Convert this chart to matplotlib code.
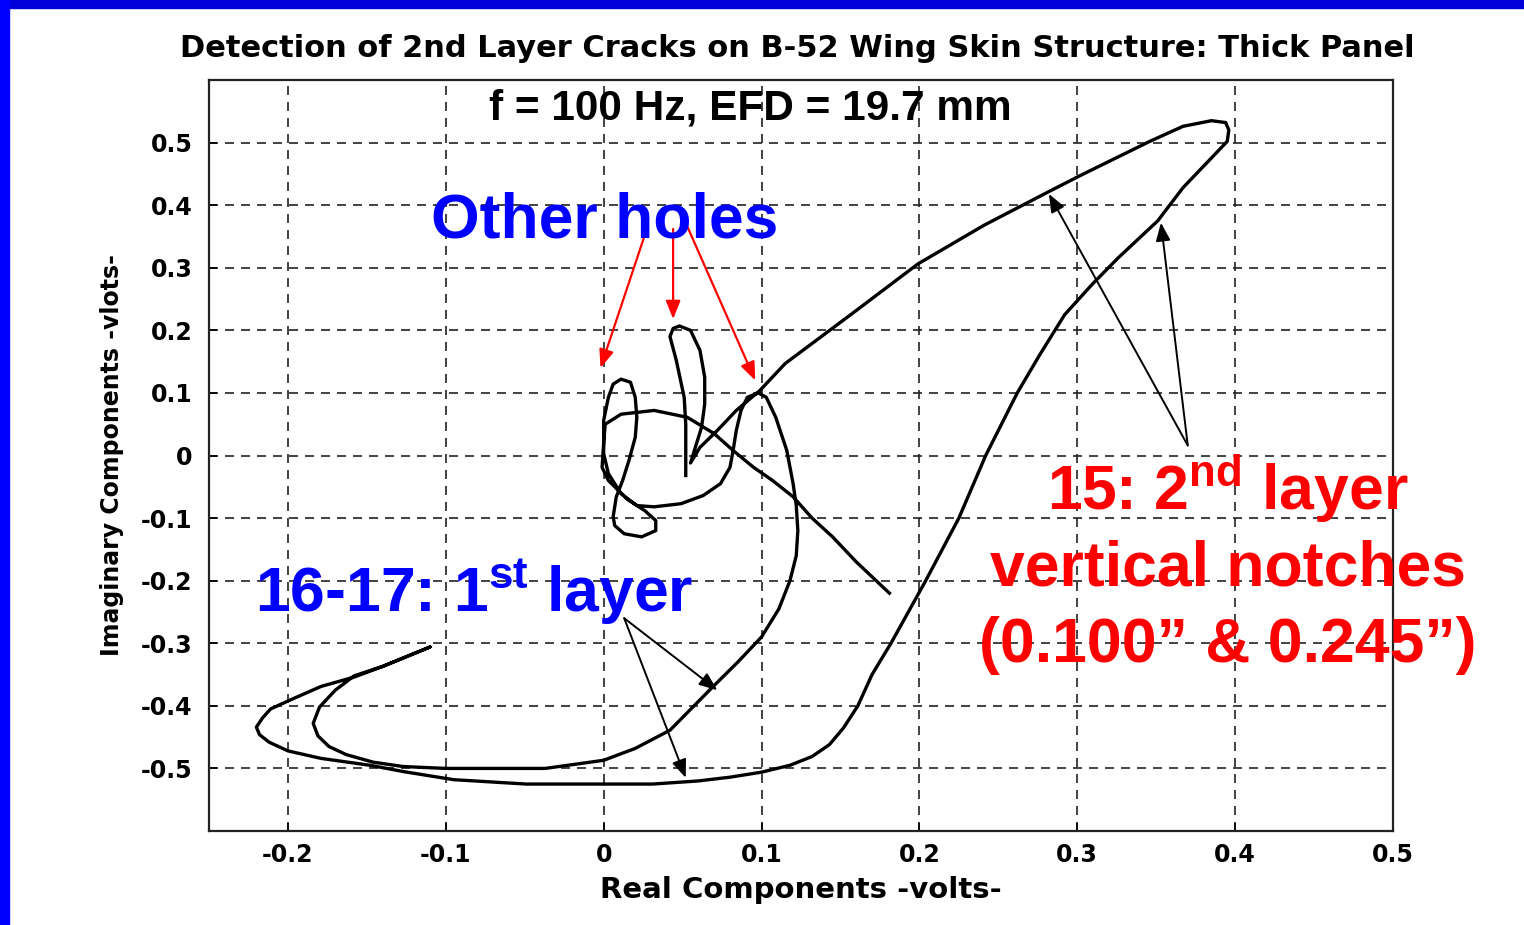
import matplotlib
matplotlib.use('Agg')
import matplotlib.pyplot as plt
from matplotlib.patches import Rectangle

plt.rcParams['axes.unicode_minus'] = False
plt.rcParams['mathtext.fontset'] = 'custom'
plt.rcParams['mathtext.rm'] = 'Liberation Sans:bold'
plt.rcParams['mathtext.it'] = 'Liberation Sans:bold'
plt.rcParams['mathtext.bf'] = 'Liberation Sans:bold'

# impedance plane trace, in four connected pieces
# middle "other hole" loop
hole_x = [0.052, 0.052, 0.052, 0.051, 0.046, 0.042, 0.044, 0.048, 0.055, 0.061, 0.064,
          0.064, 0.062, 0.055, 0.061, 0.072, 0.084, 0.099]
hole_y = [-0.032, 0.010, 0.050, 0.093, 0.152, 0.190, 0.203, 0.207, 0.200, 0.168, 0.125,
          0.082, 0.045, -0.012, 0.013, 0.040, 0.072, 0.104]

# 15: 2nd layer notches (big loop up to the right)
layer2_x = [0.099, 0.115, 0.157, 0.199, 0.241, 0.283, 0.304, 0.346, 0.367, 0.385, 0.394,
            0.396, 0.395, 0.389, 0.367, 0.351, 0.326, 0.310, 0.292, 0.276, 0.262, 0.242,
            0.225, 0.204, 0.182, 0.170, 0.161, 0.152, 0.143, 0.132, 0.118, 0.100, 0.080,
            0.060, 0.031]
layer2_y = [0.104, 0.147, 0.226, 0.306, 0.368, 0.423, 0.450, 0.502, 0.526, 0.535, 0.532,
            0.520, 0.502, 0.486, 0.428, 0.375, 0.316, 0.275, 0.225, 0.160, 0.100, 0.000,
            -0.100, -0.200, -0.300, -0.350, -0.400, -0.435, -0.462, -0.481, -0.495, -0.506,
            -0.514, -0.520, -0.525]

# 16-17: 1st layer (two lobes to the lower left)
layer1_x = [0.031, -0.049, -0.095, -0.127, -0.148, -0.179, -0.200, -0.212, -0.218, -0.220,
            -0.216, -0.211, -0.198, -0.179, -0.158, -0.140, -0.110, -0.140, -0.158, -0.170,
            -0.180, -0.184, -0.181, -0.174, -0.163, -0.146, -0.127, -0.100, -0.037, 0.000,
            0.020, 0.042, 0.069, 0.085, 0.100, 0.111, 0.118, 0.122, 0.123, 0.122, 0.120,
            0.116, 0.109, 0.103, 0.098]
layer1_y = [-0.525, -0.525, -0.518, -0.505, -0.495, -0.484, -0.472, -0.458, -0.446, -0.434,
            -0.419, -0.405, -0.390, -0.369, -0.354, -0.337, -0.306, -0.337, -0.352, -0.375,
            -0.402, -0.428, -0.448, -0.465, -0.478, -0.490, -0.497, -0.500, -0.500, -0.487,
            -0.468, -0.439, -0.370, -0.330, -0.290, -0.245, -0.200, -0.160, -0.120, -0.080,
            -0.045, 0.008, 0.061, 0.093, 0.100]

# small loops round the origin and the tail
center_x = [0.098, 0.091, 0.087, 0.084, 0.082, 0.080, 0.074, 0.063, 0.049, 0.032, 0.021,
            0.011, 0.003, 0.000, 0.000, 0.003, 0.006, 0.011, 0.017, 0.020, 0.021, 0.020,
            0.016, 0.012, 0.008, 0.006, 0.007, 0.013, 0.024, 0.033, 0.033, 0.026, 0.015,
            0.003, -0.001, 0.000, 0.001, 0.011, 0.032, 0.053, 0.070, 0.082, 0.095, 0.107,
            0.120, 0.132, 0.145, 0.160, 0.181]
center_y = [0.100, 0.093, 0.072, 0.040, 0.008, -0.019, -0.045, -0.064, -0.077, -0.082, -0.080,
            -0.061, -0.029, 0.003, 0.056, 0.093, 0.114, 0.122, 0.117, 0.093, 0.061, 0.029,
            -0.008, -0.040, -0.066, -0.098, -0.112, -0.125, -0.130, -0.120, -0.104, -0.088, -0.070,
            -0.040, -0.019, 0.020, 0.050, 0.066, 0.072, 0.061, 0.035, 0.008, -0.019, -0.040,
            -0.066, -0.100, -0.130, -0.170, -0.220]

x_ticks = [-0.2, -0.1, 0, 0.1, 0.2, 0.3, 0.4, 0.5]
x_labels = ['-0.2', '-0.1', '0', '0.1', '0.2', '0.3', '0.4', '0.5']
y_ticks = [-0.5, -0.4, -0.3, -0.2, -0.1, 0, 0.1, 0.2, 0.3, 0.4, 0.5]
y_labels = ['-0.5', '-0.4', '-0.3', '-0.2', '-0.1', '0', '0.1', '0.2', '0.3', '0.4', '0.5']

W, H = 1524, 925
fig = plt.figure(figsize=(W / 100, H / 100), dpi=100)
fig.patch.set_facecolor('white')
# blue slide frame
fig.patches.append(Rectangle((0, 1 - 8 / H), 1, 8 / H, transform=fig.transFigure,
                             color='#0000d8', zorder=0))
fig.patches.append(Rectangle((0, 0), 9 / W, 1, transform=fig.transFigure,
                             color='#0000ff', zorder=0))

ax = fig.add_axes([209 / W, (H - 831) / H, (1393 - 209) / W, (831 - 80) / H])

px = hole_x + layer2_x[1:] + layer1_x[1:] + center_x[1:]
py = hole_y + layer2_y[1:] + layer1_y[1:] + center_y[1:]
ax.plot(px, py, color='black', lw=2.4, solid_joinstyle='round', zorder=3)

ax.set_xlim(-0.25, 0.5)
ax.set_ylim(-0.6, 0.6)
ax.set_xticks(x_ticks)
ax.set_xticklabels(x_labels)
ax.set_yticks(y_ticks)
ax.set_yticklabels(y_labels)
ax.grid(True, color='#222222', linestyle=(0, (5.4, 4.2)), lw=1.2)
ax.tick_params(direction='in', length=6, width=1.2, labelsize=17)
ax.tick_params(axis='x', pad=9)
ax.tick_params(axis='y', pad=12)
for lab in ax.get_xticklabels() + ax.get_yticklabels():
    lab.set_fontweight('bold')
for sp in ax.spines.values():
    sp.set_linewidth(1.6)
    sp.set_color('#222222')

ax.set_xlabel('Real Components -volts-', fontsize=21, fontweight='bold', labelpad=6)
ax.set_ylabel('Imaginary Components -vlots-', fontsize=17, fontweight='bold', labelpad=12)

fig.text(797 / W, 1 - 57 / H,
         'Detection of 2nd Layer Cracks on B-52 Wing Skin Structure: Thick Panel',
         ha='center', va='baseline', fontsize=22, fontweight='bold')

arial = 'Liberation Sans'
fig.text(750 / W, 1 - 120 / H, 'f = 100 Hz, EFD = 19.7 mm', ha='center', va='baseline',
         fontsize=30.5, fontweight='bold', family=arial)
fig.text(605 / W, 1 - 237 / H, 'Other holes', ha='center', va='baseline',
         fontsize=45, fontweight='bold', family=arial, color='#0000ff', zorder=5)
fig.text(255 / W, 1 - 612 / H, '16-17: 1$^{\\mathrm{st}}$ layer', ha='left', va='baseline',
         fontsize=45, fontweight='bold', family=arial, color='#0000ff', zorder=5)
fig.text(1228 / W, 1 - 510 / H, '15: 2$^{\\mathrm{nd}}$ layer', ha='center', va='baseline',
         fontsize=45, fontweight='bold', family=arial, color='#ff0000', zorder=5)
fig.text(1228 / W, 1 - 585 / H, 'vertical notches', ha='center', va='baseline',
         fontsize=45, fontweight='bold', family=arial, color='#ff0000', zorder=5)
fig.text(1228 / W, 1 - 662 / H, '(0.100\u201d & 0.245\u201d)', ha='center', va='baseline',
         fontsize=45, fontweight='bold', family=arial, color='#ff0000', zorder=5)

red_arrow = dict(arrowstyle='-|>,head_length=0.55,head_width=0.22', color='#ff0000',
                 lw=1.6, mutation_scale=20, shrinkA=0, shrinkB=0)
black_arrow = dict(arrowstyle='-|>,head_length=0.55,head_width=0.22', color='black',
                   lw=1.4, mutation_scale=20, shrinkA=0, shrinkB=0)

# Other holes
ax.annotate('', xy=(-0.002, 0.140), xytext=(0.028, 0.367), arrowprops=red_arrow)
ax.annotate('', xy=(0.044, 0.218), xytext=(0.044, 0.362), arrowprops=red_arrow)
ax.annotate('', xy=(0.096, 0.120), xytext=(0.050, 0.383), arrowprops=red_arrow)
# 2nd layer
ax.annotate('', xy=(0.282, 0.418), xytext=(0.370, 0.016), arrowprops=black_arrow)
ax.annotate('', xy=(0.353, 0.372), xytext=(0.370, 0.016), arrowprops=black_arrow)
# 1st layer
ax.annotate('', xy=(0.072, -0.375), xytext=(0.013, -0.260), arrowprops=black_arrow)
ax.annotate('', xy=(0.052, -0.515), xytext=(0.013, -0.260), arrowprops=black_arrow)

fig.savefig('out.png', dpi=100)
